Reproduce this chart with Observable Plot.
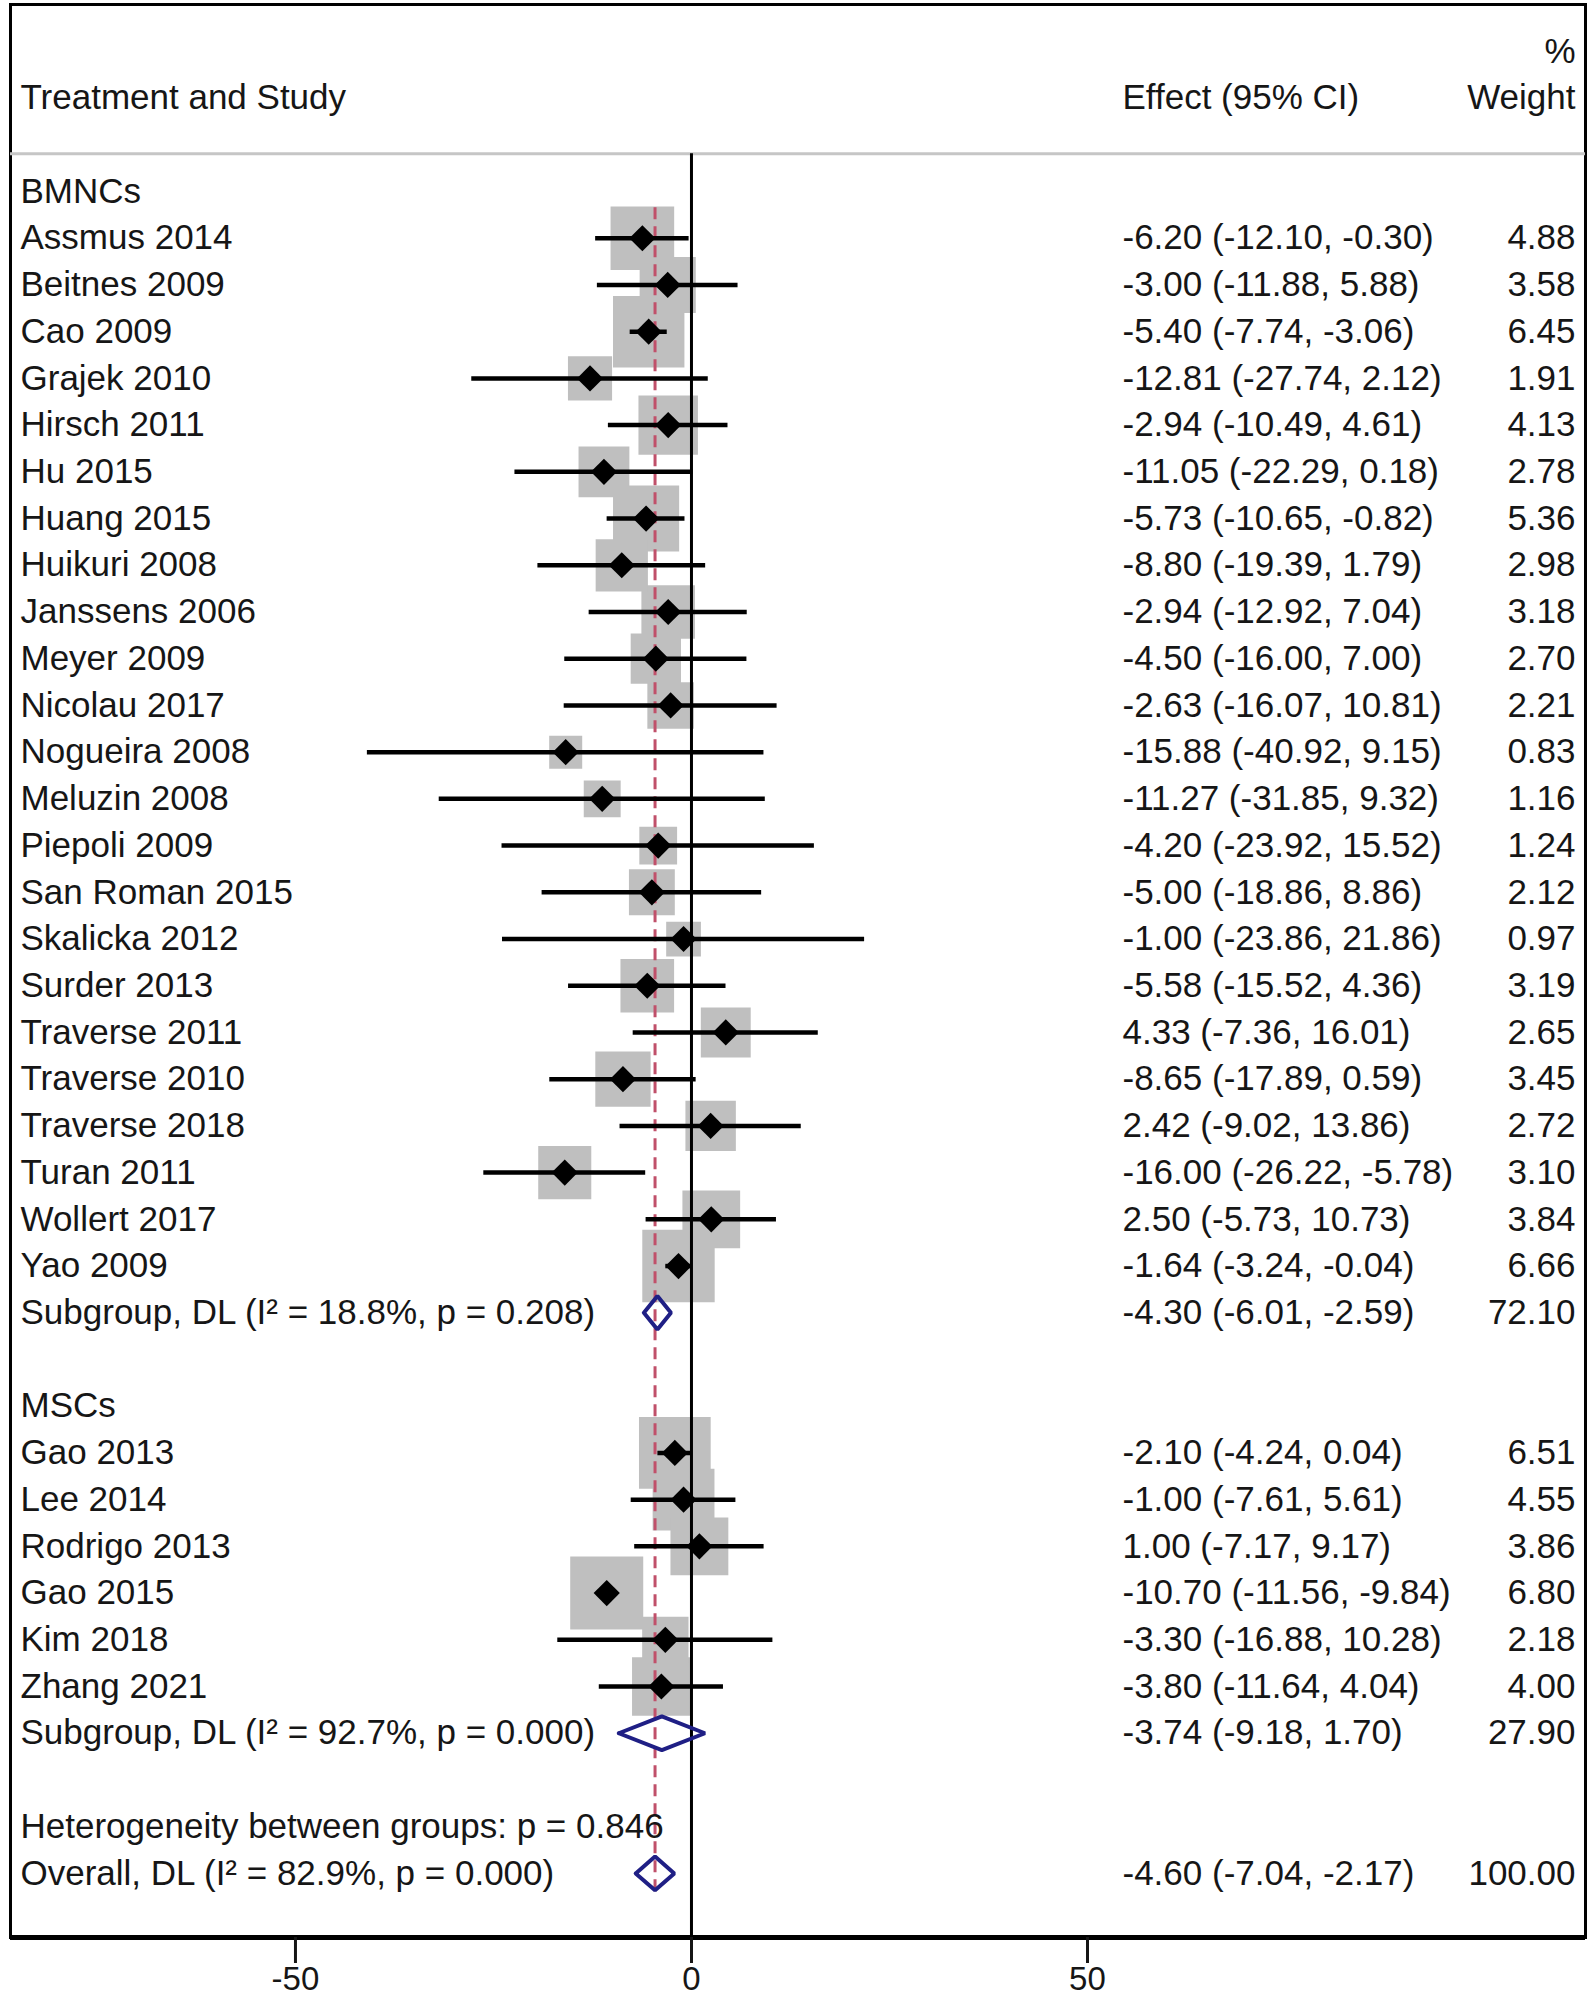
<!DOCTYPE html>
<html><head><meta charset="utf-8">
<script src="https://cdn.jsdelivr.net/npm/d3@7"></script>
<script src="https://cdn.jsdelivr.net/npm/@observablehq/plot@0.6"></script>
<style>body{margin:0;background:#fff;} svg{display:block;}</style>
</head><body><div id="chart"></div>
<script>
// ---- Data ----
const groupHeaders = ["BMNCs", "MSCs"];
const bmncStudies = ["Assmus 2014","Beitnes 2009","Cao 2009","Grajek 2010","Hirsch 2011","Hu 2015","Huang 2015","Huikuri 2008","Janssens 2006","Meyer 2009","Nicolau 2017","Nogueira 2008","Meluzin 2008","Piepoli 2009","San Roman 2015","Skalicka 2012","Surder 2013","Traverse 2011","Traverse 2010","Traverse 2018","Turan 2011","Wollert 2017","Yao 2009"];
const bmncEffect = [-6.20,-3.00,-5.40,-12.81,-2.94,-11.05,-5.73,-8.80,-2.94,-4.50,-2.63,-15.88,-11.27,-4.20,-5.00,-1.00,-5.58,4.33,-8.65,2.42,-16.00,2.50,-1.64];
const bmncLower = [-12.10,-11.88,-7.74,-27.74,-10.49,-22.29,-10.65,-19.39,-12.92,-16.00,-16.07,-40.92,-31.85,-23.92,-18.86,-23.86,-15.52,-7.36,-17.89,-9.02,-26.22,-5.73,-3.24];
const bmncUpper = [-0.30,5.88,-3.06,2.12,4.61,0.18,-0.82,1.79,7.04,7.00,10.81,9.15,9.32,15.52,8.86,21.86,4.36,16.01,0.59,13.86,-5.78,10.73,-0.04];
const bmncWeight = [4.88,3.58,6.45,1.91,4.13,2.78,5.36,2.98,3.18,2.70,2.21,0.83,1.16,1.24,2.12,0.97,3.19,2.65,3.45,2.72,3.10,3.84,6.66];

const mscStudies = ["Gao 2013","Lee 2014","Rodrigo 2013","Gao 2015","Kim 2018","Zhang 2021"];
const mscEffect = [-2.10,-1.00,1.00,-10.70,-3.30,-3.80];
const mscLower = [-4.24,-7.61,-7.17,-11.56,-16.88,-11.64];
const mscUpper = [0.04,5.61,9.17,-9.84,10.28,4.04];
const mscWeight = [6.51,4.55,3.86,6.80,2.18,4.00];

const pooledLabels = ["Subgroup, DL (I\u00B2 = 18.8%, p = 0.208)", "Subgroup, DL (I\u00B2 = 92.7%, p = 0.000)", "Overall, DL (I\u00B2 = 82.9%, p = 0.000)"];
const pooledEffect = [-4.30, -3.74, -4.60];
const pooledLower = [-6.01, -9.18, -7.04];
const pooledUpper = [-2.59, 1.70, -2.17];
const pooledWeight = [72.10, 27.90, 100.00];
const heterogeneityNote = "Heterogeneity between groups: p = 0.846";

const columnHeaders = ["Treatment and Study", "Effect (95% CI)", "Weight"];
const weightHeaderTop = "%";
const xTicks = [-50, 0, 50];

// ---- Build row table ----
const rows = [];
let r = 0;
rows.push({row: r, label: groupHeaders[0], kind: "header"});
bmncStudies.forEach((s, i) => rows.push({row: r + 1 + i, label: s, est: bmncEffect[i], lo: bmncLower[i], hi: bmncUpper[i], w: bmncWeight[i], kind: "study"}));
r += 1 + bmncStudies.length;
rows.push({row: r, label: pooledLabels[0], est: pooledEffect[0], lo: pooledLower[0], hi: pooledUpper[0], w: pooledWeight[0], kind: "pooled"});
r += 2;
rows.push({row: r, label: groupHeaders[1], kind: "header"});
mscStudies.forEach((s, i) => rows.push({row: r + 1 + i, label: s, est: mscEffect[i], lo: mscLower[i], hi: mscUpper[i], w: mscWeight[i], kind: "study"}));
r += 1 + mscStudies.length;
rows.push({row: r, label: pooledLabels[1], est: pooledEffect[1], lo: pooledLower[1], hi: pooledUpper[1], w: pooledWeight[1], kind: "pooled"});
r += 2;
rows.push({row: r, label: heterogeneityNote, kind: "note"});
r += 1;
rows.push({row: r, label: pooledLabels[2], est: pooledEffect[2], lo: pooledLower[2], hi: pooledUpper[2], w: pooledWeight[2], kind: "pooled"});
const lastRow = r;

const studies = rows.filter(d => d.kind === "study");
const pooled = rows.filter(d => d.kind === "pooled");
const valued = rows.filter(d => d.est !== undefined);
const f2 = v => v.toFixed(2);
valued.forEach(d => { d.effectText = `${f2(d.est)} (${f2(d.lo)}, ${f2(d.hi)})`; d.weightText = f2(d.w); });

const halfH = 0.36;
const diamondVerts = pooled.flatMap((d, k) => [
  {id: k, x: d.lo, y: d.row},
  {id: k, x: d.est, y: d.row - halfH},
  {id: k, x: d.hi, y: d.row},
  {id: k, x: d.est, y: d.row + halfH},
  {id: k, x: d.lo, y: d.row}
]);

const headerRows = [
  {row: -2, text: columnHeaders[0], col: "label"},
  {row: -2, text: columnHeaders[1], col: "effect"},
  {row: -2, text: columnHeaders[2], col: "weight"},
  {row: -3, text: weightHeaderTop, col: "weight"}
];

const yTop = -4.003, yBottom = 37.372, sepRow = -0.81;
const overallEst = pooledEffect[2];
const font = "Liberation Sans, Arial, Helvetica, sans-serif";
const ink = "#161616";
const fs = 35;

const chart = Plot.plot({
  width: 1593,
  height: 2000,
  marginLeft: 10,
  marginRight: 8,
  marginTop: 4,
  marginBottom: 63,
  style: {fontFamily: font, background: "#fff", color: ink},
  x: {domain: [-85.98, 112.88], axis: null},
  y: {domain: [yTop, yBottom], range: [4, 1937], axis: null},
  r: {type: "sqrt", domain: [0, 6.8], range: [6.5, 41.2]},
  marks: [
    Plot.frame({stroke: "#000", strokeWidth: 3}),
    Plot.ruleY([sepRow], {stroke: "#c6c6c6", strokeWidth: 3}),
    Plot.dot(studies, {x: "est", y: "row", r: "w", symbol: "square", fill: "#bfbfbf", stroke: null}),
    Plot.ruleX([0], {y1: sepRow, y2: yBottom, stroke: "#000", strokeWidth: 3}),
    Plot.ruleX([overallEst], {y1: 0.35, y2: lastRow + 0.45, stroke: "#c0506a", strokeWidth: 3, strokeDasharray: "12,7"}),
    Plot.ruleY(studies, {y: "row", x1: "lo", x2: "hi", stroke: "#000", strokeWidth: 4.5}),
    Plot.dot(studies, {x: "est", y: "row", symbol: "diamond2", r: 11.8, fill: "#000", stroke: null}),
    Plot.line(diamondVerts, {x: "x", y: "y", z: "id", stroke: "#1f1f85", strokeWidth: 4, strokeLinejoin: "miter", curve: "linear"}),
    Plot.text(rows, {y: "row", text: "label", frameAnchor: "left", dx: 10, textAnchor: "start", fontSize: fs, fill: ink}),
    Plot.text(valued, {y: "row", text: "effectText", frameAnchor: "left", dx: 1112, textAnchor: "start", fontSize: fs, fill: ink}),
    Plot.text(valued, {y: "row", text: "weightText", frameAnchor: "right", dx: -10, textAnchor: "end", fontSize: fs, fill: ink}),
    Plot.text(headerRows.filter(d => d.col === "label"), {y: "row", text: "text", frameAnchor: "left", dx: 10, textAnchor: "start", fontSize: fs, fill: ink}),
    Plot.text(headerRows.filter(d => d.col === "effect"), {y: "row", text: "text", frameAnchor: "left", dx: 1112, textAnchor: "start", fontSize: fs, fill: ink}),
    Plot.text(headerRows.filter(d => d.col === "weight"), {y: "row", text: "text", frameAnchor: "right", dx: -10, textAnchor: "end", fontSize: fs, fill: ink}),
    Plot.ruleY([yBottom], {stroke: "#000", strokeWidth: 5}),
    Plot.axisX({ticks: xTicks, tickSize: 26, tickPadding: 3, fontSize: 33, strokeWidth: 3, tickFormat: d => String(d), anchor: "bottom"})
  ]
});
document.getElementById("chart").appendChild(chart);
</script></body></html>
